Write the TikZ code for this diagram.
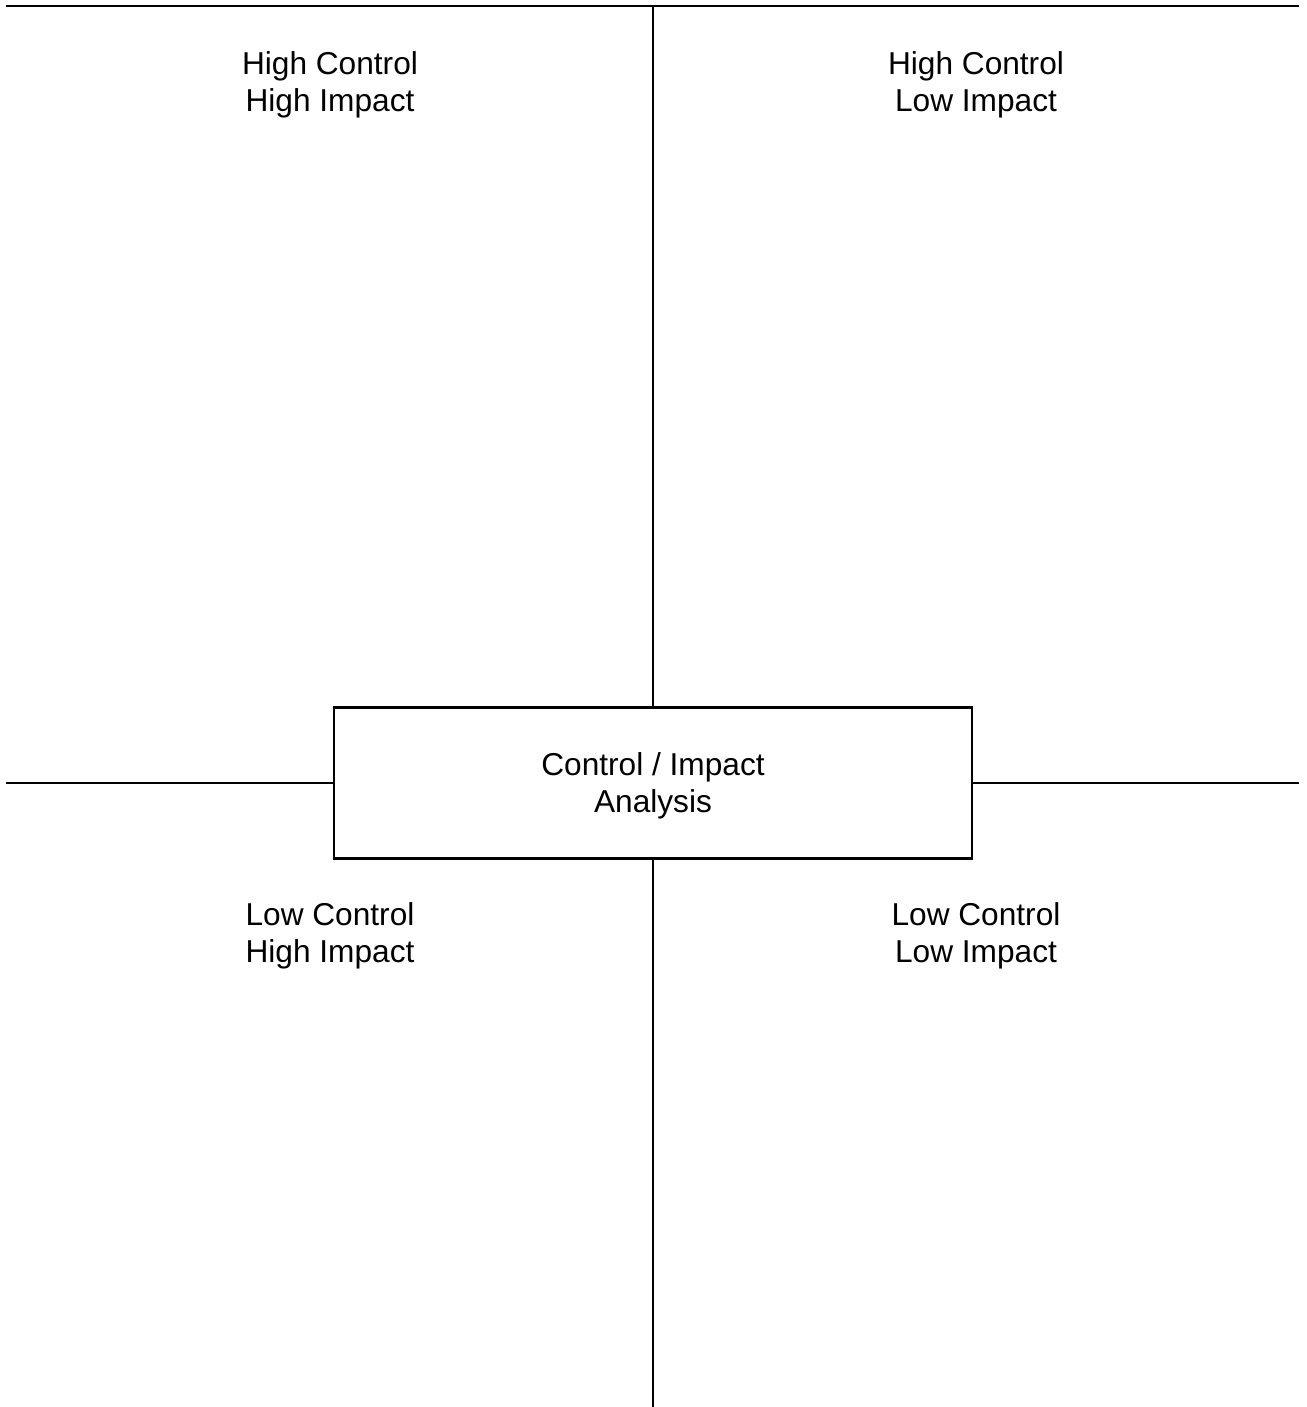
\documentclass[tikz,border=0pt]{standalone}
\usepackage{fontspec}
\setmainfont{Liberation Sans}
\begin{document}
\begin{tikzpicture}[
		x=0.01cm,y=-0.01cm,
		line width=0.6pt,
		line cap=rect,
		quadlabel/.style={align=center,font=\fontsize{9}{10.5}\selectfont},
		centrebox/.style={draw,minimum width=6.38cm,minimum height=1.51cm,inner sep=0pt}
		]
		\useasboundingbox (0,0) rectangle (1306,1407);
		\coordinate (topleft) at (7,6);
		\coordinate (topright) at (1298,6);
		\coordinate (topmid) at (653,6);
		\coordinate (botmid) at (653,1407);
		\coordinate (midleft) at (7,783);
		\coordinate (midright) at (1298,783);
		\node[centrebox,label={[quadlabel,yshift=-0.85pt]center:Control / Impact\\Analysis}] (analysis) at (653,783) {};
		\draw (topleft) -- (topright);
		\draw (topmid) -- (analysis.north);
		\draw (analysis.south) -- (botmid);
		\draw (midleft) -- (analysis.west);
		\draw (analysis.east) -- (midright);
		\node[quadlabel] (hchi) at (330,85) {High Control\\High Impact};
		\node[quadlabel] (hcli) at (976,85) {High Control\\Low Impact};
		\node[quadlabel] (lchi) at (330,936) {Low Control\\High Impact};
		\node[quadlabel] (lcli) at (976,936) {Low Control\\Low Impact};
		\end{tikzpicture}
\end{document}
